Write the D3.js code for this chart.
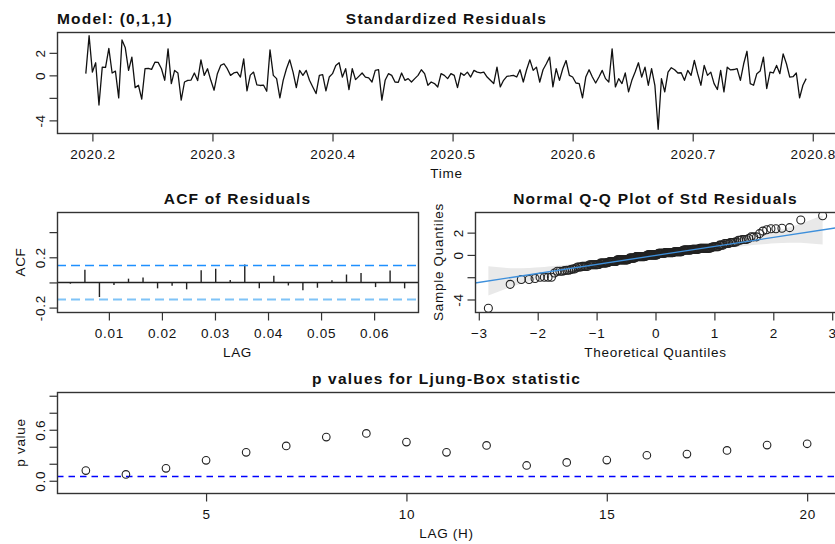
<!DOCTYPE html>
<html>
<head>
<meta charset="utf-8">
<script src="https://cdn.jsdelivr.net/npm/d3@7/dist/d3.min.js"></script>
<style>
    body { margin: 0; padding: 0; background: #fff; }
    svg text { font-family: "Liberation Sans", Arial, sans-serif; fill: #111; }
    .ttl { font-size: 15.5px; font-weight: bold; letter-spacing: 1.2px; }
    .tk text { font-size: 13.5px; letter-spacing: 0.7px; }
    .lab { font-size: 13.5px; letter-spacing: 0.7px; }
</style>
</head>
<body>
<div id="chart"></div>
<script>
// standardized residuals, daily series starting at day 71 of 2020
var startDay = 71;
var freq = 365;
var resid = [
    0.15, 3.52, 0.29, 1.12, -2.64, 0.73, 0.70, 2.40, 0.21, 0.38,
    -2.00, 3.14, 2.45, 0.44, 1.62, -1.09, -0.88, -2.11, 0.59, 0.62,
    0.53, 1.17, 1.15, 0.59, -0.44, 2.35, -0.73, 0.44, 0.21, -2.20,
    -0.59, -0.44, -0.42, 0.21, -0.46, 1.38, 0.00, 0.59, -0.44, -1.32,
    0.15, 0.88, 1.03, 0.59,
    0.00, 0.21, 0.29, -0.15, 1.47, -1.38, 0.02, 0.29, -0.85, -0.90,
    -0.86, -1.41, 2.26, 0.00, -0.29, -2.00, -0.44, 0.59, 1.38, 0.29,
    -1.09, 0.44, 0.00, 0.44, -0.44, -1.03, -1.62, 0.00, 0.06, -1.38,
    -0.15, 0.15, 0.88, 1.12, -0.15, 0.59, -1.26, 0.59, -0.38, -0.09,
    0.21, -0.15, -0.23, -0.59,
    0.44, 0.50, -2.20, -0.44, 0.15, 0.00, -0.59, -0.62, 0.21, -0.44,
    -0.29, -0.59, -0.29, 0.00, 0.50, 0.15, -0.88, -0.59, -0.73, -1.03,
    0.15, 0.00, -0.29, 0.15, 0.00, -1.09, 0.21, 0.00, 0.29, -0.15,
    0.44, 0.29, 0.21, 0.29, -0.15, -0.44, -0.73, 0.73, -1.03, -0.44,
    -0.09, -0.05, 0.00, -0.15,
    0.50, -0.59, 0.50, 1.38, 0.44, 0.73, -0.59, 0.50, 1.03, 1.62,
    -1.03, 0.59, -0.44, 0.59, 1.32, 0.00, -0.15, -0.68, -0.73, -2.00,
    -0.15, 0.50, -0.15, -0.68, -0.15, 0.44, -0.29, -0.59, 2.35, -1.03,
    -0.29, -0.73, 0.21, -1.47, -0.44, 0.29, 1.12, -0.15, 0.73, -0.88,
    0.59, -0.88, -4.79, -0.29,
    -1.47, 0.29, 0.68, 0.50, 0.21, 0.23, -0.44, 0.44, 0.00, 1.32,
    0.15, -0.88, 0.88, 0.00, 0.29, -0.73, -1.26, 0.44, -1.47, 0.73,
    0.48, 0.52, 0.60, -0.44, 1.03, 2.14, -0.73, -0.88, 0.15, 0.38,
    1.62, -1.17, 0.29, 0.21, 0.88, 0.15, 1.91, 1.03, -0.15, -0.12,
    0.21, -2.00, -0.88, -0.29
];
var timeTicks = [2020.2, 2020.3, 2020.4, 2020.5, 2020.6, 2020.7, 2020.8];
var residTicks = [-4, -2, 0, 2];
var residTickLabels = ["-4", "", "0", "2"];

// ACF of residuals, lags 1..24 (in days / 365)
var acfVals = [
    -0.010, 0.100, -0.116, -0.020, 0.030, 0.040, -0.047, -0.026, -0.055, 0.097,
    0.108, 0.020, 0.142, -0.047, 0.053, -0.024, -0.063, -0.042, 0.018, 0.063,
    0.076, -0.037, 0.095, -0.047
];
var acfXTicks = [0.01, 0.02, 0.03, 0.04, 0.05, 0.06];
var acfYTicks = [-0.2, 0, 0.2, 0.4];
var acfYLabels = ["-0.2", "", "0.2", ""];

var qqXTicks = [-3, -2, -1, 0, 1, 2, 3];

// Ljung-Box p values
var lbLags = [2, 3, 4, 5, 6, 7, 8, 9, 10, 11, 12, 13, 14, 15, 16, 17, 18, 19, 20];
var lbPvals = [0.120, 0.075, 0.146, 0.240, 0.334, 0.410, 0.514, 0.557, 0.455, 0.334,
               0.416, 0.180, 0.216, 0.243, 0.300, 0.314, 0.357, 0.420, 0.435];
var lbXTicks = [5, 10, 15, 20];
var lbYTicks = [0, 0.2, 0.4, 0.6, 0.8, 1.0];
var lbYLabels = ["0.0", "", "", "0.6", "", ""];

var W = 835, H = 544;
var svg = d3.select("#chart").append("svg").attr("width", W).attr("height", H);

var pTop = {x0: 57, x1: 836, y0: 32, y1: 133};
var pAcf = {x0: 57, x1: 418, y0: 212, y1: 312};
var pQQ  = {x0: 475, x1: 836, y0: 212, y1: 312};
var pLB  = {x0: 57, x1: 836, y0: 392, y1: 493};

function pad(ext) {
    var s = (ext[1] - ext[0]) * 0.04;
    return [ext[0] - s, ext[1] + s];
}

function box(p) {
    svg.append("rect")
        .attr("x", p.x0 + 0.5).attr("y", p.y0 + 0.5)
        .attr("width", p.x1 - p.x0).attr("height", p.y1 - p.y0)
        .attr("fill", "none").attr("stroke", "#333").attr("stroke-width", 1.4);
}

function title(p, txt) {
    svg.append("text").attr("class", "ttl")
        .attr("x", (p.x0 + p.x1) / 2).attr("y", p.y0 - 8)
        .attr("text-anchor", "middle").text(txt);
}

function xAxis(p, sc, ticks, fmt, label) {
    var g = svg.append("g").attr("class", "tk")
        .attr("transform", "translate(0," + (p.y1 + 0.5) + ")")
        .call(d3.axisBottom(sc).tickValues(ticks).tickSize(8).tickFormat(fmt));
    g.select(".domain").remove();
    g.selectAll("line").attr("stroke", "#333").attr("stroke-width", 1.2);
    g.selectAll("text").attr("y", 25.5).attr("dy", null);
    svg.append("text").attr("class", "lab")
        .attr("x", (p.x0 + p.x1) / 2).attr("y", p.y1 + 44.5)
        .attr("text-anchor", "middle").text(label);
}

function yAxis(p, sc, ticks, labels, label) {
    var g = svg.append("g").attr("class", "tk")
        .attr("transform", "translate(" + (p.x0 + 0.5) + ",0)")
        .call(d3.axisLeft(sc).tickValues(ticks).tickSize(8)
            .tickFormat(function(d, i) { return labels[i]; }));
    g.select(".domain").remove();
    g.selectAll("line").attr("stroke", "#333").attr("stroke-width", 1.2);
    g.selectAll("text")
        .attr("x", 0).attr("y", -13).attr("dy", null)
        .attr("text-anchor", "middle")
        .attr("transform", "rotate(-90)");
    if (label) {
        svg.append("text").attr("class", "lab")
            .attr("transform", "translate(" + (p.x0 - 32) + "," + ((p.y0 + p.y1) / 2) + ") rotate(-90)")
            .attr("text-anchor", "middle").text(label);
    }
}

// ---------- standardized residuals ----------
var times = resid.map(function(d, i) { return 2020 + (startDay + i) / freq; });
var xT = d3.scaleLinear().domain(pad(d3.extent(times))).range([pTop.x0, pTop.x1 - 1]);
var yR = d3.scaleLinear().domain(pad(d3.extent(resid))).range([pTop.y1, pTop.y0]);

svg.append("path")
    .datum(resid)
    .attr("fill", "none").attr("stroke", "#111").attr("stroke-width", 1.3)
    .attr("stroke-linejoin", "round")
    .attr("d", d3.line().x(function(d, i) { return xT(times[i]); }).y(function(d) { return yR(d); }));

box(pTop);
xAxis(pTop, xT, timeTicks, d3.format(".1f"), "Time");
yAxis(pTop, yR, residTicks, residTickLabels, null);
title(pTop, "Standardized Residuals");
svg.append("text").attr("class", "ttl")
    .attr("x", pTop.x0).attr("y", pTop.y0 - 8).text("Model: (0,1,1)");

// ---------- ACF ----------
var acfLags = acfVals.map(function(d, i) { return (i + 1) / freq; });
var xA = d3.scaleLinear().domain(pad(d3.extent(acfLags))).range([pAcf.x0, pAcf.x1]);
var yA = d3.scaleLinear().domain([-0.235, 0.56]).range([pAcf.y1, pAcf.y0]);
var ciA = 2 / Math.sqrt(resid.length);

svg.append("line")
    .attr("x1", pAcf.x0).attr("x2", pAcf.x1)
    .attr("y1", yA(0)).attr("y2", yA(0))
    .attr("stroke", "#222").attr("stroke-width", 1.4);
svg.selectAll(".spike").data(acfVals).enter().append("line")
    .attr("x1", function(d, i) { return xA(acfLags[i]); })
    .attr("x2", function(d, i) { return xA(acfLags[i]); })
    .attr("y1", yA(0)).attr("y2", function(d) { return yA(d); })
    .attr("stroke", "#222").attr("stroke-width", 1.4);
svg.append("line")
    .attr("x1", pAcf.x0).attr("x2", pAcf.x1)
    .attr("y1", yA(ciA)).attr("y2", yA(ciA))
    .attr("stroke", "#1e90ff").attr("stroke-width", 1.4).attr("stroke-dasharray", "9,5");
svg.append("line")
    .attr("x1", pAcf.x0).attr("x2", pAcf.x1)
    .attr("y1", yA(-ciA)).attr("y2", yA(-ciA))
    .attr("stroke", "#7fc3f7").attr("stroke-width", 2).attr("stroke-dasharray", "9,5");

box(pAcf);
xAxis(pAcf, xA, acfXTicks, d3.format(".2f"), "LAG");
yAxis(pAcf, yA, acfYTicks, acfYLabels, "ACF");
title(pAcf, "ACF of Residuals");

// ---------- normal Q-Q ----------
function qnorm(p) {
    var a = [-39.69683028665376, 220.9460984245205, -275.9285104469687, 138.3577518672690, -30.66479806614716, 2.506628277459239];
    var b = [-54.47609879822406, 161.5858368580409, -155.6989798598866, 66.80131188771972, -13.28068155288572];
    var c = [-0.007784894002430293, -0.3223964580411365, -2.400758277161838, -2.549732539343734, 4.374664141464968, 2.938163982698783];
    var d = [0.007784695709041462, 0.3224671290700398, 2.445134137142996, 3.754408661907416];
    var q, r;
    if (p < 0.02425) {
        q = Math.sqrt(-2 * Math.log(p));
        return (((((c[0]*q + c[1])*q + c[2])*q + c[3])*q + c[4])*q + c[5]) / ((((d[0]*q + d[1])*q + d[2])*q + d[3])*q + 1);
    }
    if (p > 1 - 0.02425) {
        q = Math.sqrt(-2 * Math.log(1 - p));
        return -(((((c[0]*q + c[1])*q + c[2])*q + c[3])*q + c[4])*q + c[5]) / ((((d[0]*q + d[1])*q + d[2])*q + d[3])*q + 1);
    }
    q = p - 0.5; r = q * q;
    return (((((a[0]*r + a[1])*r + a[2])*r + a[3])*r + a[4])*r + a[5])*q / (((((b[0]*r + b[1])*r + b[2])*r + b[3])*r + b[4])*r + 1);
}
function dnorm(z) { return Math.exp(-z * z / 2) / Math.sqrt(2 * Math.PI); }

var n = resid.length;
var sorted = resid.slice().sort(d3.ascending);
var pp = sorted.map(function(d, i) { return (i + 0.5) / n; });
var zq = pp.map(qnorm);
var qy = [d3.quantileSorted(sorted, 0.25), d3.quantileSorted(sorted, 0.75)];
var qx = [qnorm(0.25), qnorm(0.75)];
var slope = (qy[1] - qy[0]) / (qx[1] - qx[0]);
var icpt = qy[0] - slope * qx[0];
var band = zq.map(function(z, i) {
    var se = slope / dnorm(z) * Math.sqrt(pp[i] * (1 - pp[i]) / n);
    var f = icpt + slope * z;
    return {z: z, lo: f - 3.6 * se, hi: f + 3.6 * se};
});

var xQ = d3.scaleLinear().domain(pad(d3.extent(zq))).range([pQQ.x0, pQQ.x1]);
var yQ = d3.scaleLinear().domain(pad(d3.extent(resid))).range([pQQ.y1, pQQ.y0]);

svg.append("clipPath").attr("id", "qqclip").append("rect")
    .attr("x", pQQ.x0).attr("y", pQQ.y0).attr("width", pQQ.x1 - pQQ.x0).attr("height", pQQ.y1 - pQQ.y0);
var gq = svg.append("g").attr("clip-path", "url(#qqclip)");
gq.append("path").datum(band)
    .attr("fill", "#e9e9e9")
    .attr("d", d3.area().x(function(d) { return xQ(d.z); })
        .y0(function(d) { return yQ(d.lo); }).y1(function(d) { return yQ(d.hi); }));
gq.selectAll(".qpt").data(sorted).enter().append("circle")
    .attr("cx", function(d, i) { return xQ(zq[i]); })
    .attr("cy", function(d) { return yQ(d); })
    .attr("r", 4).attr("fill", "none").attr("stroke", "#222").attr("stroke-width", 1.1);
var xd = xQ.domain();
gq.append("line")
    .attr("x1", xQ(xd[0])).attr("x2", xQ(xd[1]))
    .attr("y1", yQ(icpt + slope * xd[0])).attr("y2", yQ(icpt + slope * xd[1]))
    .attr("stroke", "#3d8fdb").attr("stroke-width", 1.3);

box(pQQ);
xAxis(pQQ, xQ, qqXTicks, d3.format("d"), "Theoretical Quantiles");
yAxis(pQQ, yQ, residTicks, residTickLabels, "Sample Quantiles");
title(pQQ, "Normal Q-Q Plot of Std Residuals");

// ---------- Ljung-Box ----------
var xL = d3.scaleLinear().domain(pad(d3.extent(lbLags))).range([pLB.x0, pLB.x1]);
var yL = d3.scaleLinear().domain(pad([-0.1, 1])).range([pLB.y1, pLB.y0]);

svg.append("line")
    .attr("x1", pLB.x0).attr("x2", pLB.x1)
    .attr("y1", yL(0.05)).attr("y2", yL(0.05))
    .attr("stroke", "#0000ff").attr("stroke-width", 1.5).attr("stroke-dasharray", "6.5,5");
svg.selectAll(".lbpt").data(lbPvals).enter().append("circle")
    .attr("cx", function(d, i) { return xL(lbLags[i]); })
    .attr("cy", function(d) { return yL(d); })
    .attr("r", 3.8).attr("fill", "none").attr("stroke", "#222").attr("stroke-width", 1.1);

box(pLB);
xAxis(pLB, xL, lbXTicks, d3.format("d"), "LAG (H)");
yAxis(pLB, yL, lbYTicks, lbYLabels, "p value");
title(pLB, "p values for Ljung-Box statistic");
</script>
</body>
</html>
